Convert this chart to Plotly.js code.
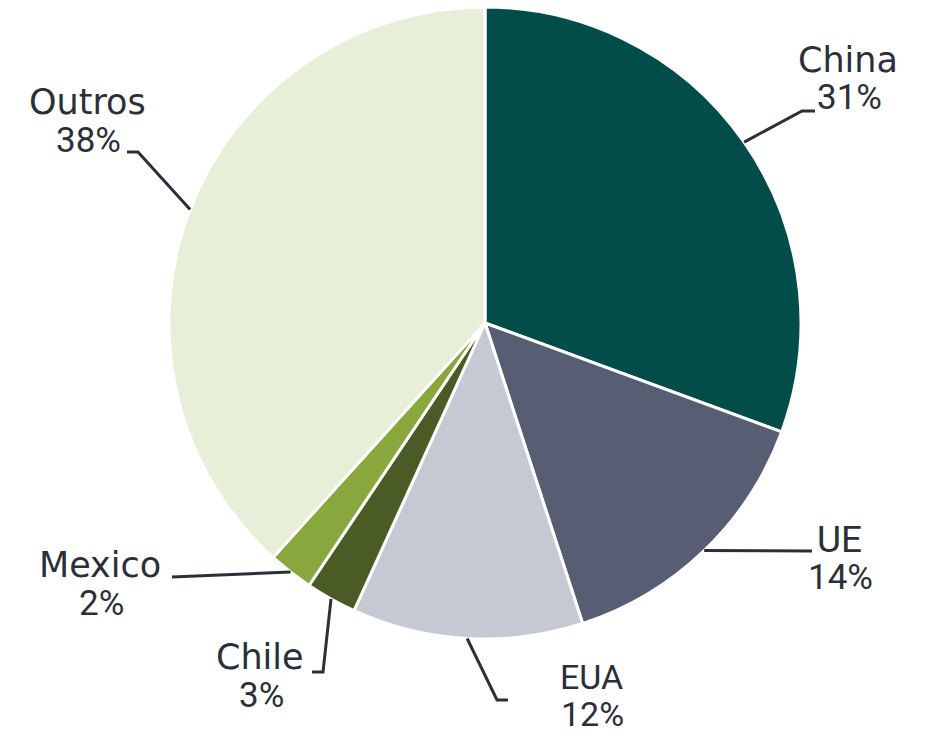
<!DOCTYPE html>
<html>
<head>
<meta charset="utf-8">
<script src="https://cdn.plot.ly/plotly-3.0.1.min.js"></script>
<style>html,body{margin:0;padding:0;background:#fff;}#chart{width:929px;height:736px;}</style>
</head>
<body>
<div id="chart"></div>
<script>
// Data
const categories = ['China', 'UE', 'EUA', 'Chile', 'Mexico', 'Outros'];
const values = [30.6, 14.4, 11.8, 2.6, 2.3, 38.3];
const colors = ['#024d4a', '#575e73', '#c5c9d4', '#4b5b25', '#88a83d', '#e7efd8'];

// Label layout (pixels): label centre x, name baseline, percent baseline, leader elbow and end
const labelX = [848, 839, 591, 260, 100, 87];
const labelBase = [73, 552, 690, 670, 578, 115];
const pctBase = [111, 590, 727, 708, 616, 153];
const elbows = [[802, 111], [812, 551], [497, 700], [323, 672], [172, 577], [138, 152]];
const ends = [[815, 111], [812, 551], [508, 700], [312, 672], [172, 577], [127, 152]];
// name font: wide labels use DejaVu Sans, the narrow ones Roboto
const nameFonts = ['"DejaVu Sans"', 'Roboto', 'Roboto', '"DejaVu Sans"', '"DejaVu Sans"', '"DejaVu Sans"'];

const W = 929, H = 736;
const cx = 485, cy = 323, R = 316;
const px = x => x / W;
const py = y => 1 - y / H;

const textColor = '#2b2f3a';

const total = values.reduce((a, b) => a + b, 0);
const annotations = [];
const shapes = [];
let cum = 0;
values.forEach((v, i) => {
  const mid = (cum + v / 2) / total * 2 * Math.PI;
  cum += v;
  const sx = cx + R * Math.sin(mid);
  const sy = cy - R * Math.cos(mid);
  const [ex, ey] = elbows[i];
  const [fx, fy] = ends[i];
  shapes.push({
    type: 'path', xref: 'paper', yref: 'paper',
    path: `M ${px(sx)} ${py(sy)} L ${px(ex)} ${py(ey)} L ${px(fx)} ${py(fy)}`,
    line: {color: textColor, width: 3}
  });
  const nameFont = nameFonts[i];
  const nameSize = i === 2 ? 34 : (nameFont === 'Roboto' ? 37 : 35);
  const pctSize = i === 2 ? 34 : 35;
  annotations.push({
    xref: 'paper', yref: 'paper',
    x: px(labelX[i]), y: py(labelBase[i] - 13),
    xanchor: 'center', yanchor: 'middle',
    text: categories[i], showarrow: false,
    font: {family: nameFont + ', sans-serif', size: nameSize, color: textColor}
  });
  annotations.push({
    xref: 'paper', yref: 'paper',
    x: px(labelX[i] + 1), y: py(pctBase[i] - 13),
    xanchor: 'center', yanchor: 'middle',
    text: Math.round(v) + '%', showarrow: false,
    font: {family: 'Roboto, sans-serif', size: pctSize, color: textColor}
  });
});

const trace = {
  type: 'pie',
  labels: categories,
  values: values,
  sort: false,
  direction: 'clockwise',
  rotation: 0,
  textinfo: 'none',
  hoverinfo: 'label+percent',
  marker: {colors: colors, line: {color: '#ffffff', width: 3}},
  domain: {x: [(cx - R) / W, (cx + R) / W], y: [py(cy + R), py(cy - R)]}
};

const layout = {
  width: W, height: H,
  margin: {l: 0, r: 0, t: 0, b: 0},
  showlegend: false,
  paper_bgcolor: '#ffffff',
  annotations: annotations,
  shapes: shapes
};

Plotly.newPlot('chart', [trace], layout, {displayModeBar: false, staticPlot: true});
</script>
</body>
</html>
